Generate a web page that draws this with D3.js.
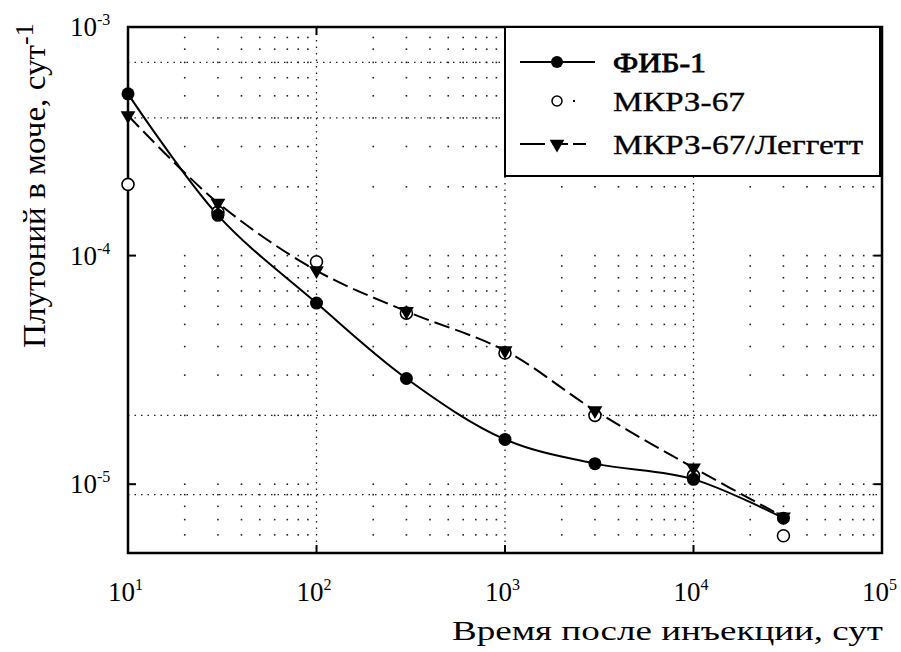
<!DOCTYPE html>
<html><head><meta charset="utf-8">
<script src="https://cdn.jsdelivr.net/npm/d3@7"></script>
<style>body{margin:0;background:#fff}svg{display:block}text{font-family:"Liberation Serif","Times New Roman",serif;fill:#000}</style>
</head><body>
<svg id="c" width="901" height="652"></svg>
<script>
// ---- data ----
const days = [10, 30, 100, 300, 1000, 3000, 10000, 30000];
const fib1 = [5.1e-4, 1.5e-4, 6.2e-5, 2.9e-5, 1.57e-5, 1.23e-5, 1.05e-5, 7.1e-6];
const mkrz67 = [2.05e-4, 1.55e-4, 9.4e-5, 5.6e-5, 3.75e-5, 2.0e-5, 1.09e-5, 5.95e-6];
const leggett = [4.1e-4, 1.7e-4, 8.6e-5, 5.7e-5, 3.84e-5, 2.1e-5, 1.18e-5, 7.2e-6];
const xTickExp = [1, 2, 3, 4, 5];
const yTickExp = [-3, -4, -5];
const seriesNames = ["ФИБ-1", "МКРЗ-67", "МКРЗ-67/Леггетт"];
const xLabel = "Время после инъекции, сут";
const yLabel = "Плутоний в моче, сут";
const yLabelSup = "-1";

const svg = d3.select("#c");
const L = 128, R = 882, T = 27, B = 553;
const x = d3.scaleLog().domain([10, 1e5]).range([L, R]);
const y = d3.scaleLog().domain([5e-6, 1e-3]).range([B, T]);

// dot grid at minor intersections
const xMin = [];
for (let e = 1; e < 5; e++) for (let k = 2; k <= 9; k++) xMin.push(k * Math.pow(10, e));
const yMin = [];
for (let e = -6; e < -3; e++) for (let k = 1; k <= 9; k++) { const v = k * Math.pow(10, e); if (v >= 5e-6 && v < 1e-3) yMin.push(v); }
const g = svg.append("g");
xMin.forEach(xv => yMin.forEach(yv => {
  g.append("rect").attr("x", x(xv) - 0.8).attr("y", y(yv) - 0.8).attr("width", 1.6).attr("height", 1.6).attr("fill", "#222");
}));
// dotted major lines
[100, 1000, 10000].forEach(v => g.append("line").attr("x1", x(v)).attr("x2", x(v)).attr("y1", T).attr("y2", B)
  .attr("stroke", "#222").attr("stroke-width", 1.3).attr("stroke-dasharray", "1.5,5"));
[7e-4, 4e-4, 2e-5, 9e-6].forEach(v => g.append("line").attr("y1", y(v)).attr("y2", y(v)).attr("x1", L).attr("x2", R)
  .attr("stroke", "#222").attr("stroke-width", 1.3).attr("stroke-dasharray", "1.5,5"));

// frame
svg.append("rect").attr("x", L).attr("y", T).attr("width", R - L).attr("height", B - T)
  .attr("fill", "none").attr("stroke", "#000").attr("stroke-width", 2.5);
// ticks
xTickExp.slice(1, -1).forEach(e => {
  const xv = x(Math.pow(10, e));
  svg.append("line").attr("x1", xv).attr("x2", xv).attr("y1", B).attr("y2", B - 8).attr("stroke", "#000").attr("stroke-width", 2);
  svg.append("line").attr("x1", xv).attr("x2", xv).attr("y1", T).attr("y2", T + 8).attr("stroke", "#000").attr("stroke-width", 2);
});
yTickExp.slice(1).forEach(e => {
  const yv = y(Math.pow(10, e));
  svg.append("line").attr("x1", L).attr("x2", L + 8).attr("y1", yv).attr("y2", yv).attr("stroke", "#000").attr("stroke-width", 2);
  svg.append("line").attr("x1", R).attr("x2", R - 8).attr("y1", yv).attr("y2", yv).attr("stroke", "#000").attr("stroke-width", 2);
});
// tick labels
xTickExp.forEach(e => {
  const t = svg.append("text").attr("x", x(Math.pow(10, e)) - 20).attr("y", 601).attr("font-size", 27);
  t.append("tspan").text("10");
  t.append("tspan").attr("font-size", 16).attr("dy", -11).text(e);
});
yTickExp.forEach(e => {
  const t = svg.append("text").attr("x", 70).attr("y", y(Math.pow(10, e)) + 9).attr("font-size", 27);
  t.append("tspan").text("10");
  t.append("tspan").attr("font-size", 16).attr("dy", -11).text(e);
});

// axis titles
svg.append("text").attr("x", 452).attr("y", 640).attr("font-size", 28)
  .attr("textLength", 431).attr("lengthAdjust", "spacingAndGlyphs").text(xLabel);
const yl = svg.append("text").attr("transform", "translate(45,348) rotate(-90)").attr("font-size", 31);
yl.append("tspan").attr("textLength", 303).attr("lengthAdjust", "spacingAndGlyphs").text(yLabel);
yl.append("tspan").attr("font-size", 26).attr("dy", -12).text(yLabelSup);

// lines
const pts = vals => days.map((d, i) => [x(d), y(vals[i])]);
const line = d3.line().curve(d3.curveCatmullRom.alpha(0.5));
svg.append("path").attr("d", line(pts(fib1))).attr("fill", "none").attr("stroke", "#000").attr("stroke-width", 2);
svg.append("path").attr("d", line(pts(leggett))).attr("fill", "none").attr("stroke", "#000").attr("stroke-width", 2)
  .attr("stroke-dasharray", "16,6");

// markers
const tri = d3.symbol().type(d3.symbolTriangle).size(95);
function drawTri(sel, cx, cy) { sel.append("path").attr("d", tri()).attr("transform", `translate(${cx},${cy}) rotate(180)`).attr("fill", "#000"); }
pts(mkrz67).forEach(p => svg.append("circle").attr("cx", p[0]).attr("cy", p[1]).attr("r", 6).attr("fill", "#fff").attr("stroke", "#000").attr("stroke-width", 1.6));
pts(leggett).forEach(p => drawTri(svg, p[0], p[1]));
pts(fib1).forEach(p => svg.append("circle").attr("cx", p[0]).attr("cy", p[1]).attr("r", 6.5).attr("fill", "#000"));

// legend
const lg = svg.append("g");
lg.append("rect").attr("x", 505).attr("y", T).attr("width", 375).attr("height", 149).attr("fill", "#fff").attr("stroke", "#000").attr("stroke-width", 2);
const rows = [62, 101, 144];
const widths = [93, 132, 250];
lg.append("line").attr("x1", 520).attr("x2", 595).attr("y1", rows[0]).attr("y2", rows[0]).attr("stroke", "#000").attr("stroke-width", 2);
lg.append("circle").attr("cx", 557).attr("cy", rows[0]).attr("r", 6).attr("fill", "#000");
lg.append("circle").attr("cx", 557).attr("cy", rows[1]).attr("r", 5).attr("fill", "#fff").attr("stroke", "#000").attr("stroke-width", 1.5);
lg.append("rect").attr("x", 573).attr("y", rows[1] - 1).attr("width", 2).attr("height", 2).attr("fill", "#000");
lg.append("line").attr("x1", 520).attr("x2", 595).attr("y1", rows[2]).attr("y2", rows[2]).attr("stroke", "#000").attr("stroke-width", 2).attr("stroke-dasharray", "25,10,13,5,13");
drawTri(lg, 557, rows[2]);
seriesNames.forEach((n, i) => lg.append("text").attr("x", 613).attr("y", rows[i] + 10).attr("font-size", 27)
  .attr("stroke", "#000").attr("stroke-width", i === 0 ? 0.8 : 0.3)
  .attr("textLength", widths[i]).attr("lengthAdjust", "spacingAndGlyphs").text(n));
</script>
</body></html>
